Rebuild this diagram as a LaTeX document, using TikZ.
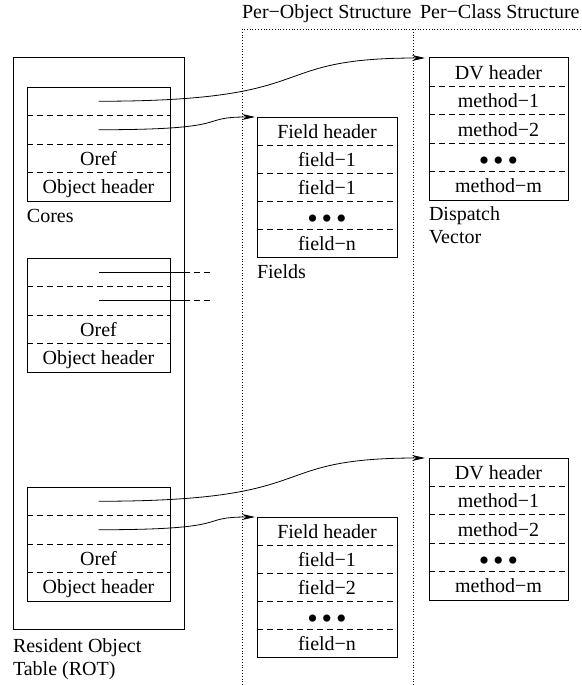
\documentclass[tikz,border=0pt]{standalone}
\usepackage{fontspec}
\setmainfont{Liberation Serif}
\usetikzlibrary{positioning, arrows.meta}

\begin{document}
\begin{tikzpicture}[x=1pt,y=-1pt,
    every node/.style={inner sep=0,outer sep=0,font=\fontsize{20}{23}\selectfont},
    corerow/.style={minimum width=143pt,minimum height=28.5pt,text height=14pt,text depth=0pt},
    fieldrow/.style={minimum width=140pt,minimum height=28pt,text height=14pt,text depth=0pt},
    dvrow/.style={minimum width=139pt,minimum height=28.4pt,text height=14pt,text depth=0pt},
    dots/.style={font=\fontsize{30}{30}\selectfont,text height=26pt},
    box/.style={line width=1pt},
    sep/.style={line width=0.7pt,dash pattern=on 6pt off 4pt},
    wire/.style={line width=0.8pt},
    ptr/.style={line width=0.8pt,-{Stealth[length=13pt,width=6pt]}},
    region/.style={dotted,line width=0.8pt}]
      \useasboundingbox (0,0) rectangle (581,685);

      % structure regions
      \coordinate (objtop) at (242,29);
      \coordinate (clstop) at (413,29);
      \draw[region] (242,685) -- (objtop) -- (581,29);
      \draw[region] (clstop) -- (413,685);
      \node[anchor=base west] (objhdr) at (242,19) {Per−Object Structure};
      \node[anchor=base west] (clshdr) at (420,19) {Per−Class Structure};

      % resident object table
      \node(rot)[draw,box,minimum width=171pt,minimum height=571pt,anchor=north west] at (13,58) {};
      \node(rotlbl)[below right=46pt and 0pt of rot.south west,anchor=base west,align=left]
           {Resident Object\\Table (ROT)};

      % core 1
      \node(c1a)[corerow,anchor=north west] at (27,87) {};
      \node(c1b)[corerow,below=0pt of c1a] {};
      \node(c1c)[corerow,below=0pt of c1b] {Oref};
      \node(c1d)[corerow,below=0pt of c1c] {Object header};
      \draw[box] (c1a.north west) rectangle (c1d.south east);
      \draw[sep] (c1a.south west) -- (c1a.south east);
      \draw[sep] (c1b.south west) -- (c1b.south east);
      \draw[sep] (c1c.south west) -- (c1c.south east);
      \node(cores)[below right=21pt and 0pt of c1d.south west,anchor=base west] {Cores};

      % core 2
      \node(c2a)[corerow,anchor=north west] at (27,258) {};
      \node(c2b)[corerow,below=0pt of c2a] {};
      \node(c2c)[corerow,below=0pt of c2b] {Oref};
      \node(c2d)[corerow,below=0pt of c2c] {Object header};
      \draw[box] (c2a.north west) rectangle (c2d.south east);
      \draw[sep] (c2a.south west) -- (c2a.south east);
      \draw[sep] (c2b.south west) -- (c2b.south east);
      \draw[sep] (c2c.south west) -- (c2c.south east);

      % core 3
      \node(c3a)[corerow,anchor=north west] at (27,487) {};
      \node(c3b)[corerow,below=0pt of c3a] {};
      \node(c3c)[corerow,below=0pt of c3b] {Oref};
      \node(c3d)[corerow,below=0pt of c3c] {Object header};
      \draw[box] (c3a.north west) rectangle (c3d.south east);
      \draw[sep] (c3a.south west) -- (c3a.south east);
      \draw[sep] (c3b.south west) -- (c3b.south east);
      \draw[sep] (c3c.south west) -- (c3c.south east);

      % fields 1
      \node(f1a)[fieldrow,anchor=north west] at (257,117) {Field header};
      \node(f1b)[fieldrow,below=0pt of f1a] {field−1};
      \node(f1c)[fieldrow,below=0pt of f1b] {field−1};
      \node(f1d)[fieldrow,dots,below=0pt of f1c] {\textbullet\hspace{4pt}\textbullet\hspace{4pt}\textbullet};
      \node(f1e)[fieldrow,below=0pt of f1d] {field−n};
      \draw[box] (f1a.north west) rectangle (f1e.south east);
      \draw[sep] (f1a.south west) -- (f1a.south east);
      \draw[sep] (f1b.south west) -- (f1b.south east);
      \draw[sep] (f1c.south west) -- (f1c.south east);
      \draw[sep] (f1d.south west) -- (f1d.south east);
      \node(fields)[below right=21pt and 0pt of f1e.south west,anchor=base west] {Fields};

      % fields 2
      \node(f2a)[fieldrow,anchor=north west] at (257,517) {Field header};
      \node(f2b)[fieldrow,below=0pt of f2a] {field−1};
      \node(f2c)[fieldrow,below=0pt of f2b] {field−2};
      \node(f2d)[fieldrow,dots,below=0pt of f2c] {\textbullet\hspace{4pt}\textbullet\hspace{4pt}\textbullet};
      \node(f2e)[fieldrow,below=0pt of f2d] {field−n};
      \draw[box] (f2a.north west) rectangle (f2e.south east);
      \draw[sep] (f2a.south west) -- (f2a.south east);
      \draw[sep] (f2b.south west) -- (f2b.south east);
      \draw[sep] (f2c.south west) -- (f2c.south east);
      \draw[sep] (f2d.south west) -- (f2d.south east);

      % dispatch vector 1
      \node(dv1a)[dvrow,anchor=north west] at (429,58) {DV header};
      \node(dv1b)[dvrow,below=0pt of dv1a] {method−1};
      \node(dv1c)[dvrow,below=0pt of dv1b] {method−2};
      \node(dv1d)[dvrow,dots,below=0pt of dv1c] {\textbullet\hspace{4pt}\textbullet\hspace{4pt}\textbullet};
      \node(dv1e)[dvrow,below=0pt of dv1d] {method−m};
      \draw[box] (dv1a.north west) rectangle (dv1e.south east);
      \draw[sep] (dv1a.south west) -- (dv1a.south east);
      \draw[sep] (dv1b.south west) -- (dv1b.south east);
      \draw[sep] (dv1c.south west) -- (dv1c.south east);
      \draw[sep] (dv1d.south west) -- (dv1d.south east);
      \node(dvlbl)[below right=43pt and 0pt of dv1e.south west,anchor=base west,align=left]
           {Dispatch\\Vector};

      % dispatch vector 2
      \node(dv2a)[dvrow,anchor=north west] at (429,458) {DV header};
      \node(dv2b)[dvrow,below=0pt of dv2a] {method−1};
      \node(dv2c)[dvrow,below=0pt of dv2b] {method−2};
      \node(dv2d)[dvrow,dots,below=0pt of dv2c] {\textbullet\hspace{4pt}\textbullet\hspace{4pt}\textbullet};
      \node(dv2e)[dvrow,below=0pt of dv2d] {method−m};
      \draw[box] (dv2a.north west) rectangle (dv2e.south east);
      \draw[sep] (dv2a.south west) -- (dv2a.south east);
      \draw[sep] (dv2b.south west) -- (dv2b.south east);
      \draw[sep] (dv2c.south west) -- (dv2c.south east);
      \draw[sep] (dv2d.south west) -- (dv2d.south east);

      % pointers
      \draw[ptr](c1a.center) .. controls +(230,0) and +(-165,0) .. ([xshift=-4pt]dv1a.north west);
      \draw[ptr](c1b.center) .. controls +(140,0) and +(-60,0) .. ([xshift=-2pt]f1a.north west);
      \draw[ptr](c3a.center) .. controls +(230,0) and +(-165,0) .. ([xshift=-4pt]dv2a.north west);
      \draw[ptr](c3b.center) .. controls +(140,0) and +(-60,0) .. ([xshift=-2pt]f2a.north west);

      \coordinate (c2aout) at ([xshift=91pt]c2a.center);
      \coordinate (c2bout) at ([xshift=91pt]c2b.center);
      \draw[wire](c2a.center)--(c2aout);
      \draw[wire](c2b.center)--(c2bout);
      \draw[sep,dash phase=6pt](c2aout)--++(23,0);
      \draw[sep,dash phase=6pt](c2bout)--++(23,0);
    \end{tikzpicture}
\end{document}
